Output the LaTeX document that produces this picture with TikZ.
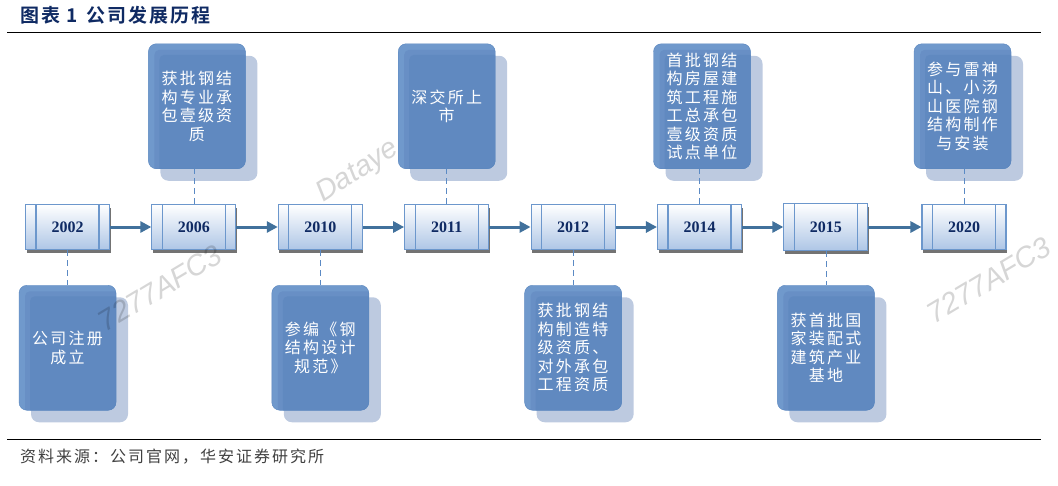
\documentclass[tikz,border=0pt]{standalone}
\usepackage{fontspec}
\usepackage{tikz}
\usetikzlibrary{arrows.meta, calc, positioning, shadows}
\setmainfont{Liberation Serif}
\newfontfamily\cjkfont[LetterSpace=14]{Noto Sans CJK SC}
\newfontfamily\sourcefont[LetterSpace=12.5]{Noto Sans CJK SC}
\newfontfamily\titlefont[LetterSpace=10]{Noto Sans CJK SC Bold}
\newfontfamily\markfont{Liberation Sans}
\definecolor{hxnavy}{HTML}{0F2A63}
\definecolor{hxband}{HTML}{7099CC}
\definecolor{hxmid}{HTML}{688FC5}
\definecolor{hxfill}{HTML}{6089C0}
\definecolor{hxedge}{HTML}{5A87BF}
\definecolor{hxshade}{HTML}{BDCAE0}
\definecolor{hxyear}{HTML}{AEC6E6}
\definecolor{hxline}{HTML}{6C97CC}
\definecolor{hxarrow}{HTML}{41719C}
\definecolor{hxdash}{HTML}{5B8AC4}
\definecolor{hxsource}{HTML}{404040}

\begin{document}
\begin{tikzpicture}[
x=1pt, y=-1pt,
texts/.style = {inner sep=0pt, align=center},
eventbox/.style = {texts, draw=hxedge, rounded corners=8pt, fill=hxband,
	minimum width=97pt, minimum height=125pt, text=white,
	font=\fontsize{16}{18.5}\selectfont\cjkfont,
	drop shadow={shadow xshift=12pt, shadow yshift=-12pt, fill=hxshade, opacity=1},
	path picture={
		\fill[hxmid, rounded corners=5pt] ($(path picture bounding box.south west)+(6pt,-8pt)$) rectangle ($(path picture bounding box.north east)+(8pt,-6pt)$);
		\fill[hxfill, rounded corners=5pt] ($(path picture bounding box.south west)+(11pt,-8pt)$) rectangle ($(path picture bounding box.north east)+(8pt,-11pt)$);}},
yearbox/.style = {texts, draw=hxline, line width=1.1pt, top color=white, bottom color=hxyear,
	minimum width=84pt, minimum height=45pt, text=hxnavy,
	font=\fontsize{16}{18}\selectfont\bfseries,
	drop shadow={shadow xshift=1pt, shadow yshift=-3pt, fill=black!55, opacity=1},
	path picture={\draw[hxline, line width=1.1pt]
		($(path picture bounding box.south west)+(10.5pt,0pt)$) -- ($(path picture bounding box.north west)+(10.5pt,0pt)$)
		($(path picture bounding box.south east)+(-10.5pt,0pt)$) -- ($(path picture bounding box.north east)+(-10.5pt,0pt)$);}},
flowline/.style = {draw=hxarrow, line width=3pt, -{Triangle[length=11pt, width=11pt]}},
dashline/.style = {draw=hxdash, line width=0.8pt, dash pattern=on 6pt off 4pt},
rule/.style = {draw=black, line width=1pt},
watermark/.style = {inner sep=0pt, text=black, text opacity=0.16, font=\fontsize{29}{30}\selectfont\markfont\itshape}
]
\useasboundingbox (0,0) rectangle (1058,485);

\node[inner sep=0pt, anchor=west, text=hxnavy, font=\fontsize{19}{20}\selectfont\titlefont] (title) at (20,15) {图表 1\hspace{9pt}公司发展历程};
\coordinate (toprulea) at (7,32);
\coordinate (topruleb) at (1041,32);
\draw[rule] (toprulea) -- (topruleb);
\coordinate (botrulea) at (7,439);
\coordinate (botruleb) at (1041,439);
\draw[rule] (botrulea) -- (botruleb);
\node[inner sep=0pt, anchor=west, text=hxsource, font=\fontsize{16}{18}\selectfont\sourcefont] (source) at (20,457) {资料来源：公司官网，华安证券研究所};

\node[yearbox] (y2002) at (67.5,227) {2002};
\node[yearbox, right = 41.3pt of y2002] (y2006) {2006};
\node[yearbox, right = 41.3pt of y2006] (y2010) {2010};
\node[yearbox, right = 41.3pt of y2010] (y2011) {2011};
\node[yearbox, right = 41.3pt of y2011] (y2012) {2012};
\node[yearbox, right = 41.3pt of y2012] (y2014) {2014};
\node[yearbox, minimum height=47pt, right = 41.3pt of y2014] (y2015) {2015};
\node[yearbox, right = 53pt of y2015] (y2020) {2020};

\node[eventbox, above = 35pt of y2006, xshift=3pt] (e2006) {获批钢结\\构专业承\\包壹级资\\质};
\node[eventbox, above = 35pt of y2011] (e2011) {深交所上\\市};
\node[eventbox, above = 35pt of y2014, xshift=2.5pt] (e2014) {首批钢结\\构房屋建\\筑工程施\\工总承包\\壹级资质\\试点单位};
\node[eventbox, above = 35pt of y2020, xshift=-1.5pt] (e2020) {参与雷神\\山、小汤\\山医院钢\\结构制作\\与安装};
\node[eventbox, below = 35pt of y2002] (e2002) {公司注册\\成立};
\node[eventbox, below = 35pt of y2010] (e2010) {参编《钢\\结构设计\\规范》};
\node[eventbox, below = 35pt of y2012] (e2012) {获批钢结\\构制造特\\级资质、\\对外承包\\工程资质};
\node[eventbox, below = 34pt of y2015] (e2015) {获首批国\\家装配式\\建筑产业\\基地};

\draw[flowline] (y2002) -- (y2006);
\draw[flowline] (y2006) -- (y2010);
\draw[flowline] (y2010) -- (y2011);
\draw[flowline] (y2011) -- (y2012);
\draw[flowline] (y2012) -- (y2014);
\draw[flowline] (y2014) -- (y2015);
\draw[flowline] (y2015) -- (y2020);

\draw[dashline] (y2006.north) -- (y2006.north |- e2006.south);
\draw[dashline] (y2011.north) -- (y2011.north |- e2011.south);
\draw[dashline] (y2014.north) -- (y2014.north |- e2014.south);
\draw[dashline] (y2020.north) -- (y2020.north |- e2020.south);
\draw[dashline] (y2002.south) -- (y2002.south |- e2002.north);
\draw[dashline] (y2010.south) -- (y2010.south |- e2010.north);
\draw[dashline] (y2012.south) -- (y2012.south |- e2012.north);
\draw[dashline] (y2015.south) -- (y2015.south |- e2015.north);

\node[watermark, rotate=33] (markdata) at (358,172) {Dataye};
\node[watermark, rotate=31] (markleft) at (160,288) {7277AFC3};
\node[watermark, rotate=31] (markright) at (989,280) {7277AFC3};
\end{tikzpicture}
\end{document}
